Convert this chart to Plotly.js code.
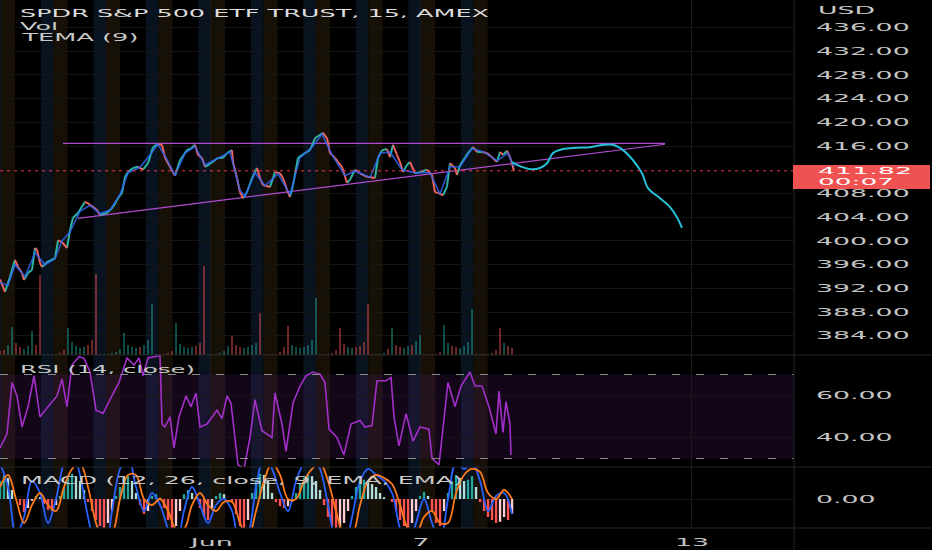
<!DOCTYPE html>
<html><head><meta charset="utf-8">
<script src="https://cdn.plot.ly/plotly-3.0.1.min.js"></script>
<style>html,body{margin:0;padding:0;background:#000;}#chart{width:932px;height:550px;}</style>
</head><body><div id="chart"></div>
<script>
// ---------- data (x in trading days, 0 = Jun 1) ----------
const priceDays = [-4.019,-3.924,-3.829,-3.733,-3.676,-3.600,-3.562,-3.486,-3.410,-3.352,-3.314,-3.257,-3.219,-3.124,-2.971,-2.914,-2.838,-2.743,-2.686,-2.629,-2.533,-2.400,-2.305,-2.171,-2.114,-1.981,-1.867,-1.771,-1.695,-1.638,-1.581,-1.486,-1.390,-1.295,-1.200,-1.105,-1.010,-0.933,-0.876,-0.781,-0.686,-0.590,-0.457,-0.362,-0.305,-0.248,-0.171,-0.114,-0.019,0.133,0.229,0.305,0.400,0.419,0.495,0.552,0.610,0.686,0.781,0.876,0.933,0.990,1.124,1.219,1.314,1.371,1.448,1.505,1.562,1.657,1.790,1.886,1.981,2.076,2.133,2.210,2.267,2.362,2.419,2.495,2.590,2.648,2.743,2.838,2.971,3.124,3.181,3.257,3.352,3.410,3.467,3.543,3.600,3.657,3.733,3.790,3.886,3.981,4.114,4.210,4.267,4.324,4.419,4.495,4.552,4.648,4.686,4.743,4.838,4.895,4.990,5.067,5.162,5.257,5.352,5.448,5.505,5.562,5.638,5.695,5.733,5.771];
const priceClose = [393.5,391.4,393.9,396.8,395.6,394.6,393.4,394.6,395.1,398.8,398.5,396.3,395.6,396.4,397.1,400.1,399.8,398.8,401.8,403.9,404.7,406.6,406.1,405.2,404.4,404.7,405.7,407.2,408.1,410.8,411.6,412.3,412.5,412.0,413.1,415.8,416.3,416.2,414.0,412.5,411.0,413.6,415.3,415.7,416.2,414.5,414.0,412.5,413.0,414.0,414.0,414.8,415.3,413.3,410.6,408.2,407.2,408.2,410.6,412.3,410.6,409.4,409.1,411.6,411.4,410.6,408.6,407.4,409.4,414.0,414.8,415.3,417.3,417.9,418.2,417.3,414.8,414.0,413.3,412.5,409.8,410.3,412.0,411.4,410.8,410.6,414.0,415.3,415.5,414.1,416.2,414.5,413.3,411.6,412.8,413.3,411.4,411.6,412.0,411.1,408.2,408.1,407.7,409.1,413.1,412.3,411.1,412.8,414.0,414.8,415.8,415.0,415.0,414.8,414.1,413.3,415.0,414.5,415.2,414.1,413.1,411.82];
const lastPrice = 411.82;

const temaDays = [-4.019,-3.867,-3.733,-3.543,-3.352,-3.162,-2.971,-2.838,-2.686,-2.495,-2.305,-2.114,-1.924,-1.733,-1.581,-1.352,-1.162,-1.010,-0.857,-0.686,-0.495,-0.305,-0.114,0.133,0.362,0.552,0.648,0.838,1.029,1.276,1.505,1.695,1.924,2.114,2.305,2.552,2.743,3.029,3.219,3.410,3.638,3.886,4.171,4.362,4.552,4.743,4.971,5.219,5.448,5.657,5.771];
const temaValues = [393.0,392.5,396.0,394.0,398.0,396.0,397.0,400.0,401.5,405.0,406.0,404.6,405.2,407.8,411.5,412.4,414.5,416.3,414.0,411.0,414.8,415.9,412.8,414.0,415.0,408.5,407.5,411.5,409.3,411.3,407.8,414.0,415.8,418.0,414.5,411.0,411.8,410.7,414.8,415.0,412.0,411.5,411.5,407.9,412.5,412.5,415.6,414.9,413.5,414.8,412.5];

const projectionDays = [5.733,5.886,6.076,6.267,6.400,6.514,6.705,6.971,7.219,7.467,7.657,7.848,8.038,8.210,8.324,8.552,8.743,8.876,8.971];
const projectionValues = [413.3,412.6,412.1,412.3,413.1,414.8,415.5,415.7,415.8,416.2,416.2,415.3,413.6,411.4,408.9,407.2,405.7,404.0,402.2];

const trendTopDays = [-2.819, 8.648];
const trendTopValues = [416.45, 416.45];
const trendRiseDays = [-2.533, 8.648];
const trendRiseValues = [403.8, 416.3];

// regular bar grid used by volume and MACD
const gridStart = -4.019;
const gridStep = 0.0762;
const volumeM = [0.4,0.5,1.0,2.8,1.2,0.8,0.6,0.9,2.4,1.0,8.0,0.1,0.1,0.1,0.1,0.2,0.5,2.7,1.3,0.9,0.7,0.8,1.0,1.5,8.1,0.1,0.1,0.1,0.2,0.3,0.6,2.2,1.0,0.8,0.7,0.8,1.0,1.5,5.1,0.1,0.1,0.1,0.2,0.4,3.2,1.1,0.8,0.7,0.8,0.9,1.2,8.9,0.1,0.1,0.1,0.2,0.4,0.9,1.9,1.0,0.8,0.7,0.8,1.0,1.2,4.2,0.1,0.1,0.1,0.1,0.3,0.8,2.9,1.0,0.8,0.7,0.8,1.0,1.5,5.7,0.1,0.1,0.1,0.2,0.5,2.7,1.1,0.8,0.7,0.8,0.9,1.3,5.1,0.1,0.1,0.1,0.2,0.6,2.7,1.0,0.8,0.7,0.9,1.0,1.4,2.0,0.1,0.1,0.1,0.1,0.3,3.0,1.2,0.9,0.8,0.7,0.9,1.3,4.6,0.1,0.1,0.1,0.1,0.2,0.5,2.7,1.2,0.9,0.7];
const macdHist = [0.3,0.4,0.35,0.15,0.0,-0.1,-0.22,-0.15,-0.03,0.05,0.03,-0.08,-0.18,-0.2,-0.1,0.05,0.2,0.35,0.42,0.38,0.3,0.15,-0.05,-0.2,-0.35,-0.45,-0.5,-0.4,-0.2,0.05,0.2,0.32,0.38,0.3,0.1,-0.1,-0.25,-0.2,0.05,0.08,0.02,-0.15,-0.35,-0.5,-0.45,-0.2,0.08,0.15,0.1,0.02,-0.15,-0.3,-0.35,-0.15,0.05,0.1,0.08,0.0,-0.05,-0.25,-0.45,-0.55,-0.35,0.1,0.3,0.42,0.4,0.3,0.1,-0.05,-0.12,-0.15,-0.12,-0.05,0.1,0.25,0.35,0.4,0.38,0.3,0.15,-0.1,-0.3,-0.45,-0.55,-0.5,-0.4,-0.2,0.05,0.2,0.3,0.32,0.28,0.25,0.2,0.1,0.03,0.0,-0.05,-0.2,-0.35,-0.45,-0.5,-0.4,-0.2,0.05,0.12,0.05,-0.2,-0.4,-0.45,-0.2,0.1,0.3,0.4,0.35,0.3,0.32,0.38,0.2,-0.05,-0.2,-0.3,-0.35,-0.4,-0.38,-0.3,-0.35,-0.25];
const macdLine = [0.6,0.2,-0.6,-0.3,0.3,0.1,-0.4,0.0,0.6,0.8,0.4,-0.3,-0.8,-0.9,-0.2,0.5,0.7,0.2,-0.2,0.1,-0.1,-0.5,-0.8,-0.2,0.2,-0.1,-0.4,-0.1,0.0,-0.2,-0.8,-0.6,0.2,0.7,0.5,0.1,-0.2,0.3,0.6,0.7,0.5,-0.1,-0.7,-0.8,-0.3,0.3,0.5,0.4,0.3,0.1,-0.5,-0.8,-0.4,0.0,-0.4,-0.7,0.0,0.6,0.5,0.6,0.3,-0.2,0.05,0.1,-0.25];
const signalLine = [0.2,0.4,0.0,-0.4,-0.1,0.1,-0.1,-0.2,0.2,0.5,0.6,0.2,-0.4,-0.7,-0.6,0.0,0.4,0.4,0.0,-0.1,0.0,-0.2,-0.5,-0.5,-0.1,0.1,-0.1,-0.2,-0.05,-0.05,-0.4,-0.65,-0.2,0.3,0.6,0.4,0.0,0.0,0.3,0.5,0.6,0.3,-0.2,-0.6,-0.6,-0.1,0.3,0.4,0.35,0.25,-0.1,-0.5,-0.6,-0.3,-0.2,-0.4,-0.4,0.1,0.4,0.5,0.45,0.1,0.0,0.15,0.0];

const rsiDays = [-4.019,-3.886,-3.790,-3.695,-3.600,-3.486,-3.371,-3.257,-3.105,-2.933,-2.838,-2.743,-2.648,-2.514,-2.419,-2.305,-2.190,-2.057,-1.924,-1.752,-1.600,-1.467,-1.371,-1.295,-1.200,-0.971,-0.933,-0.876,-0.781,-0.705,-0.610,-0.476,-0.381,-0.286,-0.210,-0.076,0.114,0.210,0.305,0.381,0.514,0.629,0.743,0.838,0.971,1.162,1.219,1.352,1.429,1.562,1.695,1.810,1.943,2.076,2.171,2.248,2.400,2.533,2.667,2.838,2.933,3.067,3.162,3.333,3.429,3.486,3.581,3.714,3.848,3.981,4.152,4.210,4.343,4.438,4.514,4.648,4.762,4.933,5.029,5.162,5.295,5.429,5.486,5.562,5.619,5.695,5.714];
const rsiValues = [35,41.7,66.2,59.8,45,54.5,69.4,49.8,54.7,59.8,67.9,54.7,74.5,78.5,77.7,71.2,53,51.4,58,66.2,77.9,74.5,77.9,69.4,77.9,79,46.4,45,49.8,35,49.8,59.8,54.7,61.2,45,46.4,53,49,59.8,56.4,27,25.2,40,58,43.2,40,61.2,46.4,33.4,56.4,64.5,69.4,71.2,70.2,66.2,44,40,31.7,46.4,48.1,45,45.7,67,67,68.6,49.8,36,51.4,38.3,45,44,30.1,27,49.8,66.2,54.7,64.5,71.2,64.5,64.5,54.7,41.7,62.1,42.4,57.1,46.4,31.7];
const rsiUpper = 70, rsiLower = 30;

const sessionStarts = [-4,-3,-2,-1,0,1,2,3,4,5];
const xTickDays = [0, 4, 9.162];
const xTickLabels = ['Jun', '7', '13'];
const priceTicks = [384,388,392,396,400,404,408,416,420,424,428,432,436];
const rsiTicks = [40, 60];
const macdTicks = [0];

// ---------- build ----------
const XR = [-4.019, 11.105];
const XD = 794/932;
const FONT = 'DejaVu Sans';
const gridX = volumeM.map((_, i) => gridStart + i*gridStep);
const lineX = macdLine.map((_, i) => gridStart + i*2*gridStep);

const upX=[],upY=[],dnX=[],dnY=[];
for (let i=1;i<priceClose.length;i++){
  const up = priceClose[i] >= priceClose[i-1];
  (up?upX:dnX).push(priceDays[i-1], priceDays[i], null);
  (up?upY:dnY).push(priceClose[i-1], priceClose[i], null);
}
const volColors = gridX.map(x => {
  let j = 1;
  while (j < priceDays.length-1 && priceDays[j] < x) j++;
  return priceClose[j] >= priceClose[j-1] ? 'rgba(38,166,154,0.5)' : 'rgba(239,83,80,0.5)';
});
const histColors = macdHist.map((v,i) => {
  const p = i ? macdHist[i-1] : v;
  if (v >= 0) return v >= p ? '#26a69a' : '#b2dfdb';
  return v < p ? '#ff5252' : '#ffcdd2';
});

const data = [
  {type:'bar', x:gridX, y:volumeM, xaxis:'x', yaxis:'y2', width:0.035, marker:{color:volColors, line:{width:0}}, hoverinfo:'skip'},
  {type:'scatter', mode:'lines', x:trendTopDays, y:trendTopValues, line:{color:'#b04ad0', width:1.2}, hoverinfo:'skip'},
  {type:'scatter', mode:'lines', x:trendRiseDays, y:trendRiseValues, line:{color:'#b04ad0', width:1.2}, hoverinfo:'skip'},
  {type:'scatter', mode:'lines', x:upX, y:upY, line:{color:'#2bb3a3', width:2}, connectgaps:false, hoverinfo:'skip'},
  {type:'scatter', mode:'lines', x:dnX, y:dnY, line:{color:'#f0625d', width:2}, connectgaps:false, hoverinfo:'skip'},
  {type:'scatter', mode:'lines', x:temaDays, y:temaValues, line:{color:'#2f66f0', width:1.6}, opacity:0.85, hoverinfo:'skip'},
  {type:'scatter', mode:'lines', x:projectionDays, y:projectionValues, line:{color:'#27bfd6', width:2, shape:'spline'}, hoverinfo:'skip'},
  {type:'scatter', mode:'lines', x:rsiDays, y:rsiValues, xaxis:'x', yaxis:'y3', line:{color:'#a22fc8', width:1.6}, hoverinfo:'skip'},
  {type:'bar', x:gridX, y:macdHist, xaxis:'x', yaxis:'y4', width:0.045, marker:{color:histColors, line:{width:0}}, hoverinfo:'skip'},
  {type:'scatter', mode:'lines', x:lineX, y:macdLine, xaxis:'x', yaxis:'y4', line:{color:'#2962ff', width:1.8, shape:'spline'}, hoverinfo:'skip'},
  {type:'scatter', mode:'lines', x:lineX, y:signalLine, xaxis:'x', yaxis:'y4', line:{color:'#ff7a1a', width:1.8, shape:'spline'}, hoverinfo:'skip'}
];

const shapes = [];
sessionStarts.forEach(d => {
  shapes.push({type:'rect', xref:'x', yref:'paper', x0:d-0.24, x1:d, y0:0.04, y1:1, fillcolor:'#09131f', line:{width:0}, layer:'below'});
  shapes.push({type:'rect', xref:'x', yref:'paper', x0:d, x1:d+0.27, y0:0.04, y1:1, fillcolor:'#161007', line:{width:0}, layer:'below'});
});
shapes.push({type:'rect', xref:'paper', yref:'y3', x0:0, x1:XD, y0:rsiLower, y1:rsiUpper, fillcolor:'rgba(120,40,160,0.15)', line:{width:0}, layer:'below'});
[rsiUpper, rsiLower].forEach(v => shapes.push({type:'line', xref:'paper', yref:'y3', x0:0, x1:XD, y0:v, y1:v, line:{color:'#8a8a8a', width:1, dash:'8px,16px'}}));
shapes.push({type:'line', xref:'paper', yref:'y', x0:0, x1:XD, y0:lastPrice, y1:lastPrice, line:{color:'#f23645', width:1, dash:'3px,4px'}});
[355, 467, 528].forEach(py => shapes.push({type:'line', xref:'paper', yref:'paper', x0:0, x1:1, y0:1-py/550, y1:1-py/550, line:{color:'#262626', width:1}}));
shapes.push({type:'line', xref:'paper', yref:'paper', x0:XD, x1:XD, y0:0, y1:1, line:{color:'#262626', width:1}});
shapes.push({type:'rect', xref:'paper', yref:'y', ysizemode:'pixel', yanchor:lastPrice, x0:793/932, x1:930/932, y0:-18.2, y1:5.8, fillcolor:'#f05252', line:{width:0}, layer:'above'});

const annFont = (c, s) => ({family:FONT, size:s || 10.5, color:c});
const annotations = [
  {text:'SPDR S&P 500 ETF TRUST, 15, AMEX', xref:'paper', yref:'paper', x:19/932, y:1-13/550, font:annFont('#dcdcdc')},
  {text:'Vol', xref:'paper', yref:'paper', x:19/932, y:1-25.5/550, font:annFont('#c8c8c8')},
  {text:'TEMA (9)', xref:'paper', yref:'paper', x:19/932, y:1-37.5/550, font:annFont('#c8c8c8')},
  {text:'USD', xref:'paper', yref:'paper', x:817/932, y:1-10/550, font:annFont('#c8c8c8')},
  {text:'RSI (14, close)', xref:'paper', yref:'paper', x:19/932, y:1-369/550, font:annFont('#c8c8c8')},
  {text:'MACD (12, 26, close, 9, EMA, EMA)', xref:'paper', yref:'paper', x:20/932, y:1-480/550, font:annFont('#c8c8c8')},
  {text:lastPrice.toFixed(2), xref:'paper', yref:'y', x:817/932, y:lastPrice, yshift:-0.2, font:annFont('#ffffff', 9)},
  {text:'00:07', xref:'paper', yref:'y', x:817/932, y:lastPrice, yshift:-11.2, font:annFont('#ffffff', 9)}
].map(a => Object.assign({showarrow:false, xanchor:'left', yanchor:'middle', align:'left', borderpad:0}, a));
const annWidths = [469, 38, 116, 57, 175, 442, 94, 76];

const tickFont = {family:FONT, size:10.5, color:'#c4c4c4'};
const yCommon = {side:'right', anchor:'x', ticks:'', showline:false, zeroline:false, tickfont:tickFont, ticklabelstandoff:21, gridcolor:'#151515', fixedrange:true};
const layout = {
  width:932, height:550, margin:{l:0,r:0,t:0,b:0},
  paper_bgcolor:'#000', plot_bgcolor:'#000', showlegend:false, barmode:'overlay',
  xaxis:{domain:[0,XD], range:XR, anchor:'y4', tickvals:xTickDays, ticktext:xTickLabels, ticks:'', showline:false, zeroline:false,
         showgrid:true, gridcolor:'#1a1a1a', tickfont:tickFont, ticklabelstandoff:6},
  yaxis:Object.assign({}, yCommon, {domain:[1-355/550,1], range:[380.76,440.62], tickvals:priceTicks, ticktext:priceTicks.map(v=>v.toFixed(2))}),
  yaxis2:{overlaying:'y', range:[0,35.5], visible:false, fixedrange:true},
  yaxis3:Object.assign({}, yCommon, {domain:[1-467/550,1-355/550], range:[25.95,79.29], tickvals:rsiTicks, ticktext:rsiTicks.map(v=>v.toFixed(2))}),
  yaxis4:Object.assign({}, yCommon, {domain:[1-528/550,1-467/550], range:[-0.483,0.533], tickvals:macdTicks, ticktext:macdTicks.map(v=>v.toFixed(2))}),
  shapes:shapes, annotations:annotations
};

// widen glyphs like the reference, keeping each text's anchor edge/centre in place
function stretchTo(el, w){
  const b0 = el.getBBox();
  el.setAttribute('lengthAdjust','spacingAndGlyphs');
  el.setAttribute('textLength', w);
  const b1 = el.getBBox();
  const anchor = el.getAttribute('text-anchor') || getComputedStyle(el).textAnchor || 'start';
  let shift;
  if (anchor === 'middle') shift = (b0.x + b0.width/2) - (b1.x + b1.width/2);
  else if (anchor === 'end') shift = (b0.x + b0.width) - (b1.x + b1.width);
  else shift = b0.x - b1.x;
  if (Math.abs(shift) > 0.3) el.setAttribute('x', (parseFloat(el.getAttribute('x')) || 0) + shift);
}
Plotly.newPlot('chart', data, layout, {staticPlot:true, displayModeBar:false}).then(gd => {
  gd.querySelectorAll('g[class$="tick"] > text').forEach(t => stretchTo(t, t.getComputedTextLength()*2.55));
  gd.querySelectorAll('g.annotation').forEach(g => {
    const i = +g.getAttribute('data-index');
    const t = g.querySelector('text.annotation-text');
    if (t && annWidths[i]) stretchTo(t, annWidths[i]);
  });
});
</script></body></html>
